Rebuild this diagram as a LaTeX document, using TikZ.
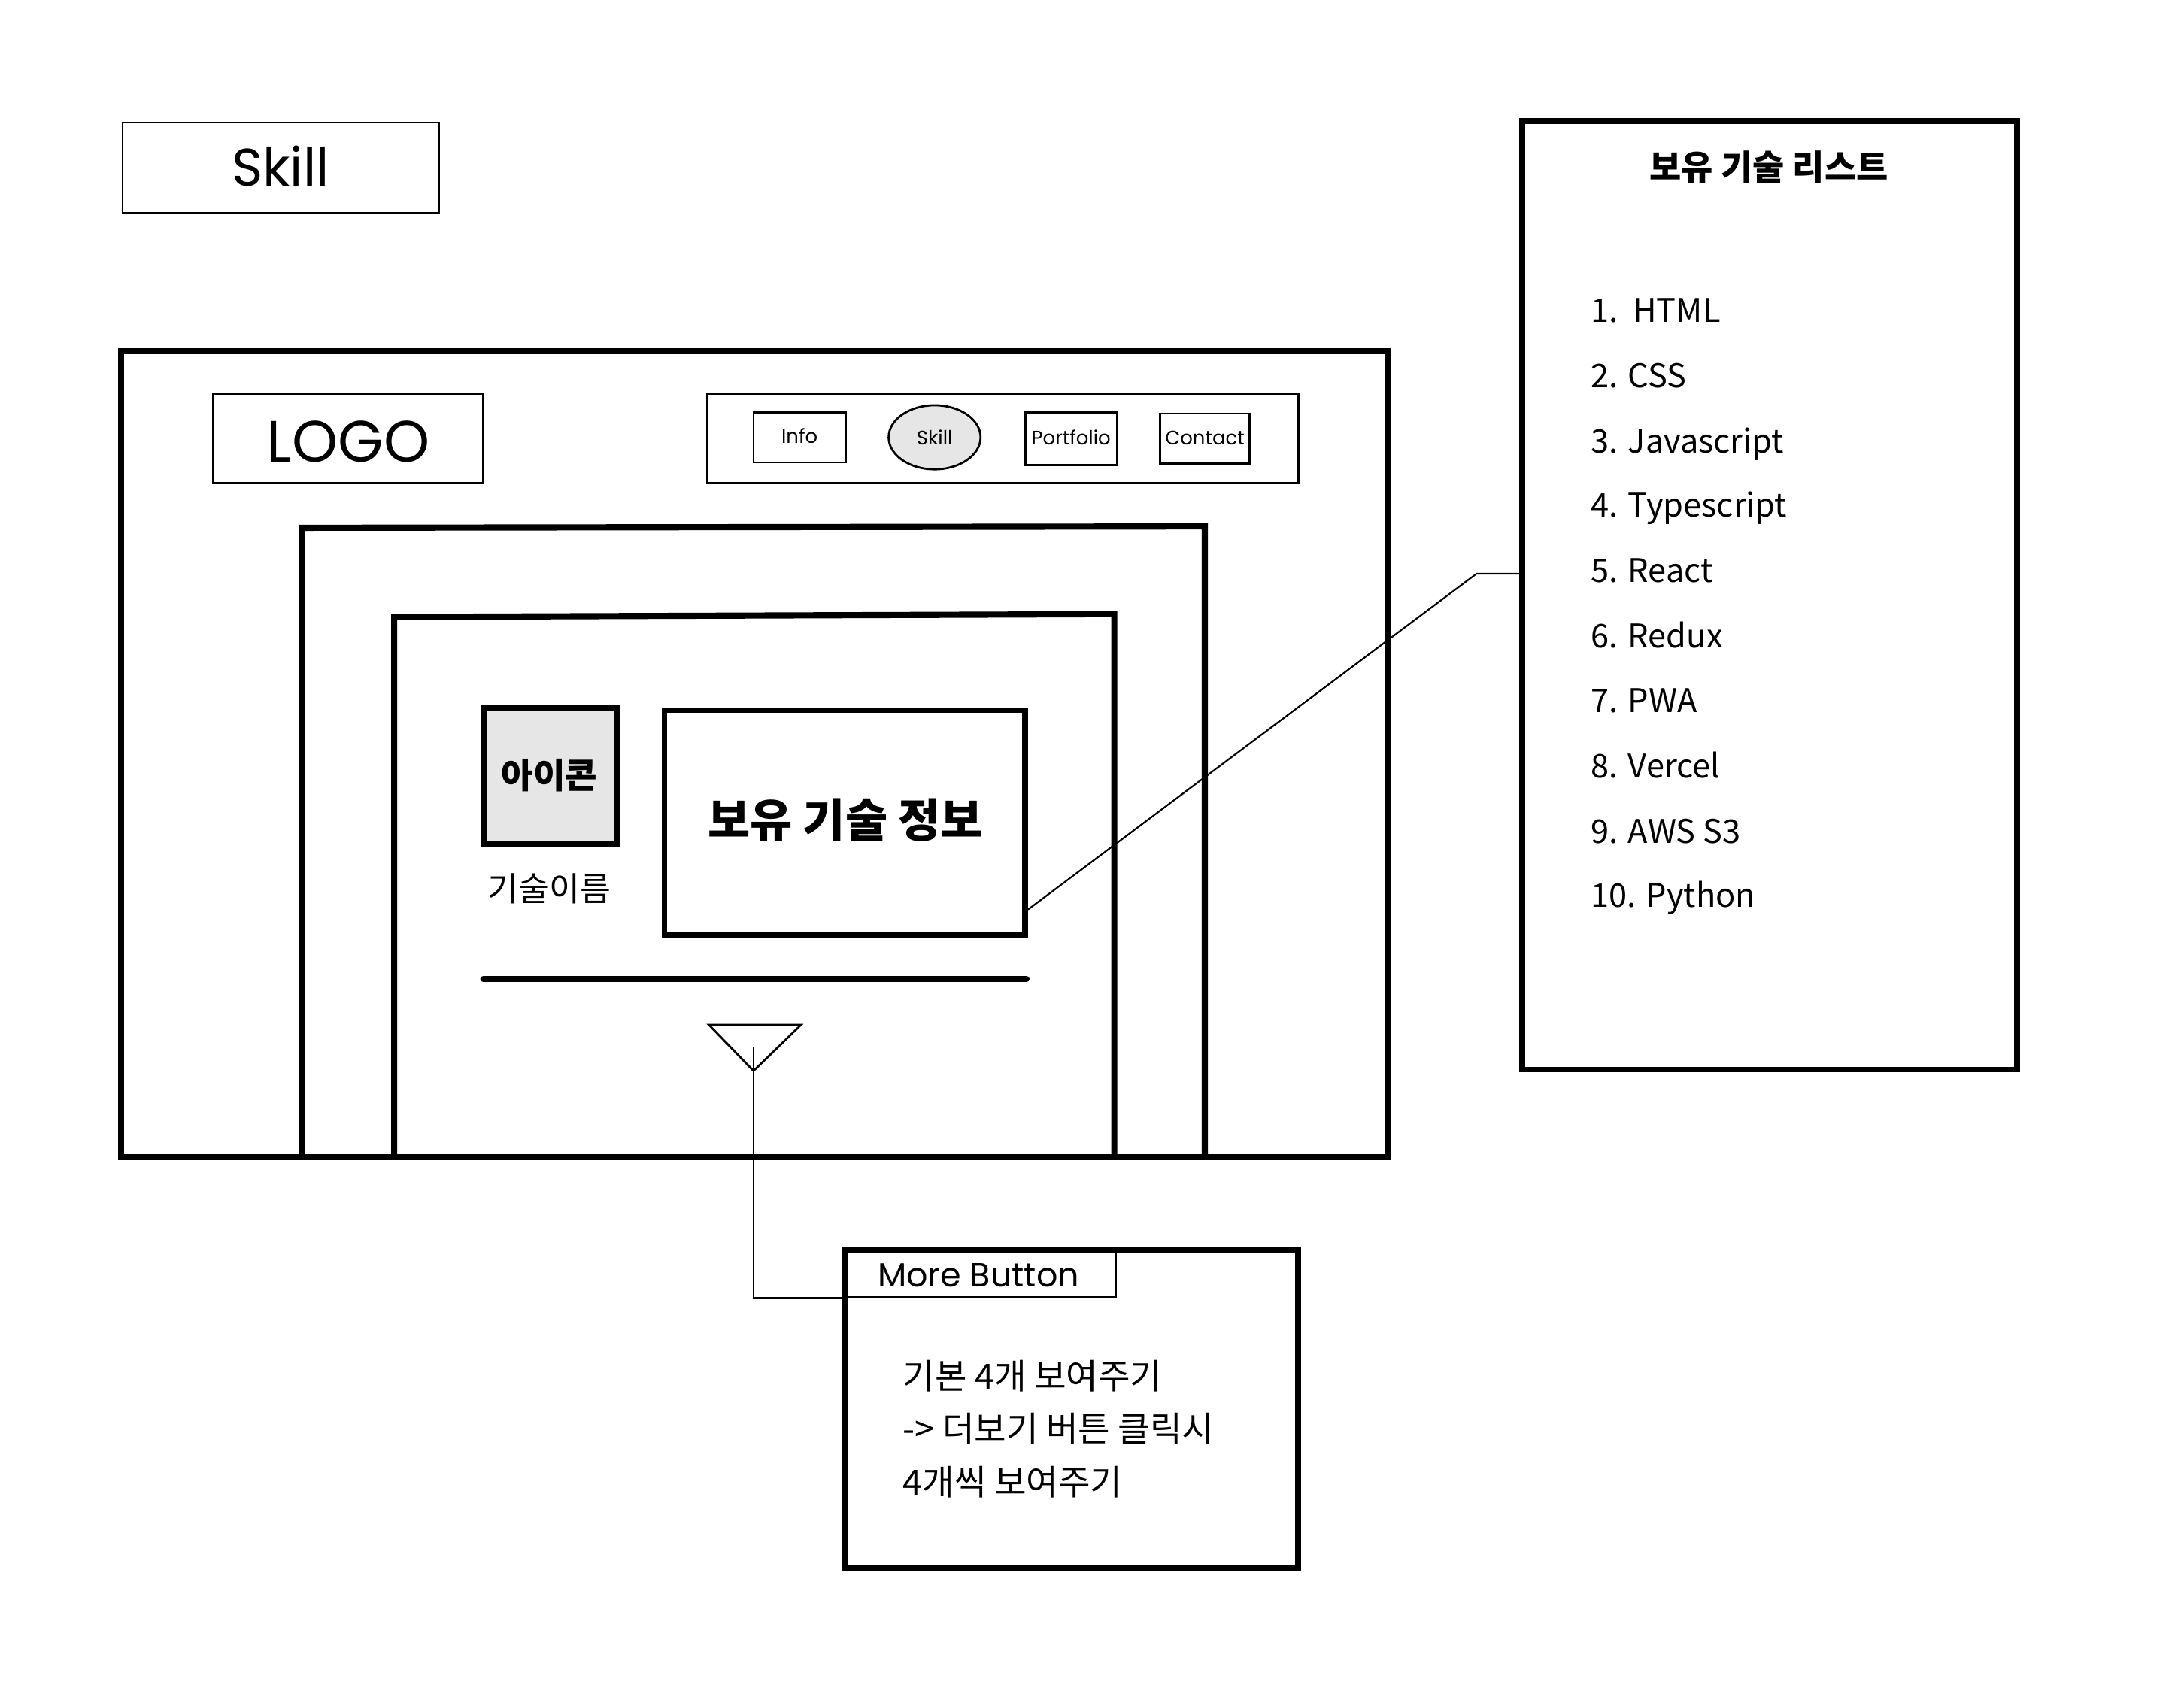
\documentclass[tikz,border=0pt]{standalone}
\usepackage{fontspec}
\setmainfont{Noto Sans CJK KR}
\newfontfamily\kr{Noto Sans CJK KR}
\newfontfamily\comic{Poppins}
\usetikzlibrary{fit,shapes.geometric}
\definecolor{boxgray}{HTML}{E6E6E6}
\begin{document}
\begin{tikzpicture}[x=0.5pt,y=-0.5pt,
  tbox/.style={draw, line width=0.75pt, inner sep=0pt},
  kbox/.style={draw, line width=2.1pt, inner sep=0pt},
  frame/.style={line width=2.2pt, line join=miter},
  conn/.style={line width=0.6pt},
  lbl/.style={anchor=base, inner sep=0pt},
  listitem/.style={anchor=base west, inner sep=0pt, font=\kr\fontsize{11.7}{14}\selectfont},
  moretext/.style={anchor=base west, inner sep=0pt, font=\kr\fontsize{12.5}{15}\selectfont},
  navtext/.style={lbl, font=\comic\fontsize{7}{8}\selectfont}]
\useasboundingbox (0,0) rectangle (1568,1212);
\fill[white] (0,0) rectangle (1568,1212);

% title
\node[tbox, fit={(88,88)(315,153)}] (title) {};
\node[lbl, font=\comic\fontsize{19}{22}\selectfont] (titlet) at (201.5,133.5) {Skill};

% outer page frame
\node[kbox, fit={(87,252)(996,831)}] (outer) {};
\node[tbox, fit={(153,283)(347,347)}] (logo) {};
\node[lbl, font=\comic\fontsize{21}{25}\selectfont] (logot) at (250,332) {LOGO};
\node[tbox, fit={(508,283)(932,347)}] (nav) {};
\node[tbox, fit={(541,296)(607,332)}] (binfo) {};
\node[navtext] at (574,318.5) {Info};
\node[draw, line width=0.75pt, ellipse, fill=boxgray, minimum width=33pt, minimum height=23pt, inner sep=0pt] (bskill) at (671,314) {};
\node[navtext] at (671,319.5) {Skill};
\node[tbox, fit={(736,296)(802,334)}] (bport) {};
\node[navtext] at (769,319.5) {Portfolio};
\node[tbox, fit={(833,297)(897,333)}] (bcont) {};
\node[navtext] at (865,319.5) {Contact};

% nested frames (open at bottom)
\draw[frame] (217,831) -- (217,379) -- (865,378) -- (865,831);
\draw[frame] (283,831) -- (283,443) -- (800,441) -- (800,831);

% icon + name
\node[kbox, fill=boxgray, fit={(347,508)(443,606)}] (icon) {};
\node[lbl, font=\kr\bfseries\fontsize{12.5}{15}\selectfont] (icont) at (394.5,566) {아이콘};
\node[lbl, font=\kr\fontsize{12}{14}\selectfont] (iname) at (394.5,647) {기술이름};

% info box
\node[kbox, fit={(477,510)(736,671)}] (info) {};
\node[lbl, font=\kr\bfseries\fontsize{16.5}{20}\selectfont] (infot) at (607,601) {보유 기술 정보};

% separator line
\coordinate (sepL) at (347,703);
\coordinate (sepR) at (737,703);
\draw[line width=2.2pt, line cap=round] (sepL) -- (sepR);

% more triangle
\coordinate (triL) at (509,736);
\coordinate (triR) at (575,736);
\coordinate (triA) at (541,769);
\draw[line width=0.75pt, line join=miter] (triL) -- (triR) -- (triA) -- cycle;

% more button note
\node[kbox, fit={(607,898)(932,1126)}] (more) {};
\node[tbox, fit={(607,898)(801,931)}] (tab) {};
\node[lbl, font=\comic\fontsize{12}{15}\selectfont] (tabt) at (702.5,924) {More Button};
\node[moretext] (m1) at (648,997.5) {기본 4개 보여주기};
\node[moretext] (m2) at (648,1035.5) {-> 더보기 버튼 클릭시};
\node[moretext] (m3) at (648,1073.5) {4개씩 보여주기};

\coordinate (tstart) at (541,752);
\draw[conn] (tstart) |- (tab.south west);

% skill list note
\node[kbox, fit={(1093,87)(1448,768)}] (list) {};
\node[lbl, font=\kr\bfseries\fontsize{12.4}{15}\selectfont] (ltitle) at (1270,129.5) {보유 기술 리스트};
\node[listitem] (l1) at (1142,231.4) {1.\ \ HTML};
\node[listitem] (l2) at (1142,278.4) {2. CSS};
\node[listitem] (l3) at (1142,325.4) {3. Javascript};
\node[listitem] (l4) at (1142,371.4) {4. Typescript};
\node[listitem] (l5) at (1142,418.4) {5. React};
\node[listitem] (l6) at (1142,465.4) {6. Redux};
\node[listitem] (l7) at (1142,511.4) {7. PWA};
\node[listitem] (l8) at (1142,558.4) {8. Vercel};
\node[listitem] (l9) at (1142,605.4) {9. AWS S3};
\node[listitem] (l10) at (1142,651.4) {10. Python};

\coordinate (bend) at (1060,412);
\draw[conn] ([yshift=10pt]info.south east) -- (bend) -- (list.west |- bend);
\end{tikzpicture}
\end{document}
